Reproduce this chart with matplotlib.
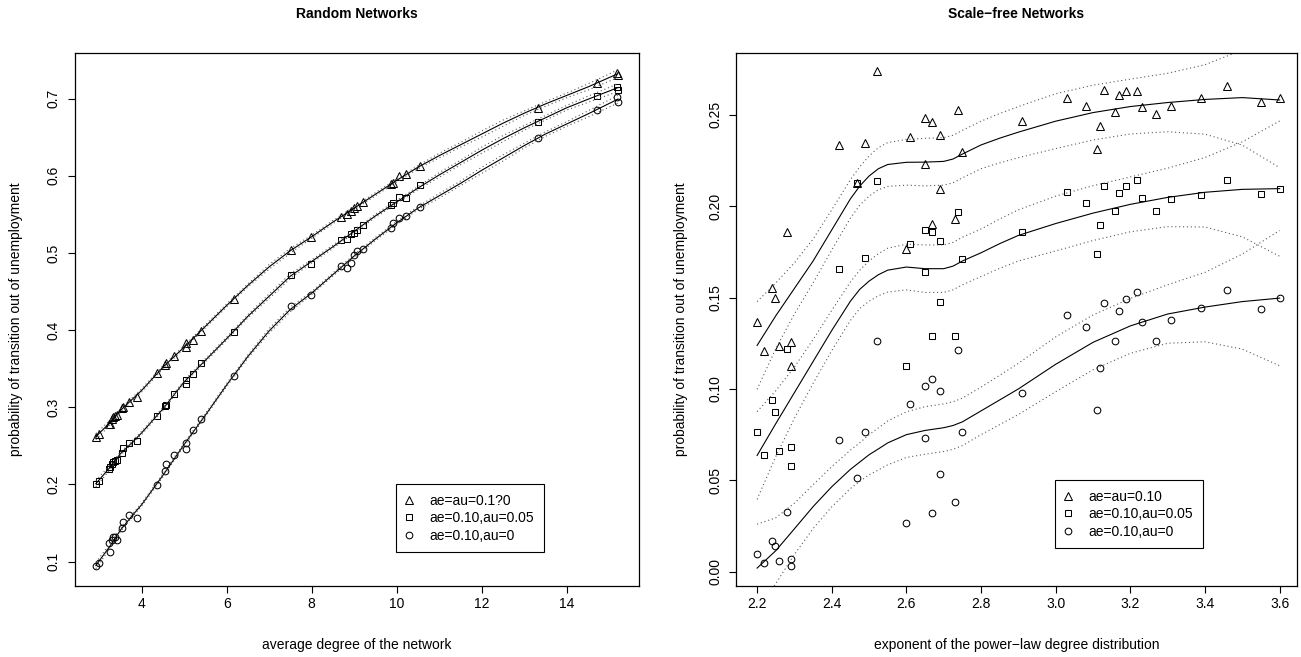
import matplotlib
matplotlib.use("Agg")
import matplotlib.pyplot as plt
from matplotlib.lines import Line2D
import numpy as np

plt.rcParams['font.family'] = ['Liberation Sans', 'DejaVu Sans']

# ---- Random networks (left) ----
avg_degree = [2.92, 3.00, 3.24, 3.25, 3.29, 3.33, 3.37, 3.41, 3.53, 3.55, 3.71, 3.88, 4.35, 4.55,
              4.57, 4.76, 5.03, 5.05, 5.21, 5.39, 6.16, 7.52, 7.98, 8.68, 8.82, 8.92, 9.00, 9.07,
              9.20, 9.87, 9.91, 10.06, 10.22, 10.55, 13.32, 14.71, 15.19, 15.20]
rand_tri = [0.262, 0.266, 0.278, 0.279, 0.2845, 0.2878, 0.289, 0.290, 0.2987, 0.3008, 0.3073, 0.3137,
            0.344, 0.355, 0.357, 0.3665, 0.3785, 0.383, 0.3872, 0.3992, 0.440, 0.504, 0.520, 0.547,
            0.551, 0.5547, 0.558, 0.561, 0.5655, 0.589, 0.591, 0.5996, 0.602, 0.6126, 0.688, 0.720,
            0.733, 0.730]
rand_sq = [0.2006, 0.2045, 0.2197, 0.223, 0.226, 0.2295, 0.2308, 0.232, 0.2404, 0.2469, 0.2541, 0.2567,
           0.289, 0.302, 0.3026, 0.3168, 0.330, 0.3354, 0.3431, 0.357, 0.397, 0.4714, 0.486, 0.517,
           0.518, 0.525, 0.526, 0.530, 0.536, 0.562, 0.5642, 0.5728, 0.5715, 0.5876, 0.670, 0.703,
           0.715, 0.711]
rand_ci = [0.0944, 0.098, 0.1238, 0.113, 0.128, 0.1316, 0.1324, 0.128, 0.1433, 0.1518, 0.1605, 0.1562,
           0.1993, 0.2175, 0.2262, 0.2382, 0.2464, 0.2541, 0.2706, 0.2845, 0.3405, 0.431, 0.4455, 0.483,
           0.480, 0.487, 0.497, 0.502, 0.5047, 0.532, 0.539, 0.545, 0.548, 0.560, 0.649, 0.685,
           0.702, 0.6955]

# smoothed fits
rand_grid = [2.92, 3.25, 3.5, 3.75, 4, 4.5, 5, 5.5, 6, 6.5, 7, 7.5, 8, 8.5, 9, 9.5, 10, 10.5,
             11, 11.5, 12, 12.5, 13, 13.5, 14, 14.5, 15.2]
rand_fit_tri = [0.262, 0.280, 0.296, 0.309, 0.322, 0.352, 0.378, 0.405, 0.432, 0.458, 0.482, 0.503, 0.521,
                0.540, 0.558, 0.576, 0.594, 0.611, 0.626, 0.640, 0.654, 0.668, 0.681, 0.693, 0.704, 0.715, 0.732]
rand_fit_sq = [0.201, 0.222, 0.240, 0.253, 0.267, 0.298, 0.333, 0.361, 0.389, 0.418, 0.444, 0.470, 0.489,
               0.508, 0.528, 0.548, 0.566, 0.584, 0.601, 0.617, 0.633, 0.648, 0.662, 0.675, 0.688, 0.699, 0.714]
rand_fit_ci = [0.095, 0.120, 0.141, 0.158, 0.174, 0.212, 0.252, 0.290, 0.329, 0.366, 0.399, 0.427, 0.448,
               0.472, 0.496, 0.518, 0.539, 0.558, 0.574, 0.590, 0.607, 0.623, 0.639, 0.654, 0.667, 0.680, 0.699]
rand_band = [0.004, 0.003, 0.002, 0.002, 0.002, 0.002, 0.002, 0.002, 0.002, 0.002, 0.003, 0.003, 0.002,
             0.002, 0.002, 0.002, 0.002, 0.002, 0.003, 0.003, 0.004, 0.004, 0.003, 0.003, 0.003, 0.004, 0.005]

# ---- Scale-free networks (right) ----
exponent = [2.200, 2.219, 2.239, 2.249, 2.259, 2.2805, 2.2896, 2.2896, 2.420, 2.469, 2.489, 2.520,
            2.600, 2.609, 2.650, 2.650, 2.669, 2.669, 2.690, 2.690, 2.730, 2.739, 2.750,
            2.909, 3.030, 3.080, 3.110, 3.119, 3.130, 3.159, 3.170, 3.189, 3.218, 3.231, 3.269,
            3.309, 3.390, 3.460, 3.550, 3.600]
sf_tri = [0.1365, 0.1206, 0.1554, 0.1495, 0.1234, 0.1861, 0.1256, 0.1128, 0.2336, 0.2129, 0.2343, 0.2738,
          0.1768, 0.238, 0.248, 0.2231, 0.2458, 0.190, 0.239, 0.2093, 0.1928, 0.2526, 0.2299,
          0.2464, 0.2592, 0.2546, 0.2312, 0.2440, 0.2637, 0.2513, 0.2610, 0.2632, 0.2628, 0.2544, 0.2504,
          0.2549, 0.2592, 0.2656, 0.2571, 0.2592]
sf_sq = [0.0764, 0.0636, 0.0938, 0.0874, 0.0662, 0.1219, 0.0684, 0.0581, 0.1658, 0.2126, 0.1714, 0.2138,
         0.1128, 0.1791, 0.1868, 0.1641, 0.1861, 0.1292, 0.1809, 0.1475, 0.1288, 0.1968, 0.1709,
         0.1861, 0.2075, 0.2020, 0.1736, 0.1895, 0.2111, 0.1974, 0.2071, 0.2111, 0.2144, 0.2042, 0.1974,
         0.2038, 0.2061, 0.2142, 0.2069, 0.2096]
sf_ci = [0.0095, 0.0049, 0.0170, 0.0141, 0.0060, 0.0325, 0.0068, 0.0031, 0.0720, 0.0515, 0.0766, 0.1261,
         0.0269, 0.0919, 0.1014, 0.0733, 0.1055, 0.0323, 0.0987, 0.0537, 0.0380, 0.1215, 0.0764,
         0.0978, 0.1402, 0.1340, 0.0883, 0.1115, 0.1471, 0.1261, 0.1426, 0.1493, 0.1532, 0.1365, 0.1261,
         0.1376, 0.1444, 0.1541, 0.1435, 0.1499]

sf_grid = [2.2, 2.25, 2.3, 2.35, 2.4, 2.45, 2.475, 2.5, 2.525, 2.55, 2.6, 2.65, 2.7, 2.725, 2.75,
           2.8, 2.85, 2.9, 3.0, 3.1, 3.2, 3.3, 3.4, 3.5, 3.6]
sf_fit_tri = [0.1238, 0.140, 0.155, 0.170, 0.187, 0.204, 0.211, 0.2165, 0.2205, 0.2228, 0.2240, 0.2241,
              0.2245, 0.2258, 0.2285, 0.2335, 0.2372, 0.2405, 0.2465, 0.2512, 0.2545, 0.2567, 0.2584,
              0.2594, 0.2581]
sf_fit_sq = [0.0636, 0.081, 0.098, 0.115, 0.132, 0.148, 0.1545, 0.1590, 0.1625, 0.1650, 0.1667, 0.1658,
             0.1658, 0.1672, 0.1700, 0.1745, 0.1795, 0.1840, 0.1905, 0.1962, 0.2010, 0.2048, 0.2076,
             0.2092, 0.2096]
sf_fit_ci = [0.002, 0.0115, 0.0235, 0.0356, 0.0465, 0.0560, 0.0600, 0.0640, 0.0672, 0.0705, 0.0750, 0.0773,
             0.0788, 0.0800, 0.0820, 0.0880, 0.0940, 0.1000, 0.1135, 0.1255, 0.1345, 0.1410, 0.1448,
             0.1478, 0.1497]
sf_band = [0.024, 0.018, 0.014, 0.012, 0.011, 0.0105, 0.0105, 0.011, 0.0115, 0.012, 0.0125, 0.013, 0.013,
           0.013, 0.013, 0.013, 0.0135, 0.014, 0.015, 0.015, 0.015, 0.016, 0.019, 0.026, 0.037]

W, H = 1301, 657
fig = plt.figure(figsize=(W / 100, H / 100), dpi=100)
ax1 = fig.add_axes([74.6 / W, 71 / H, 564.7 / W, 533 / H])
ax2 = fig.add_axes([736 / W, 71 / H, 561 / W, 533 / H])

marker_kw = dict(linestyle='none', markerfacecolor='none', markeredgecolor='black', markeredgewidth=0.75)
styles = [('^', 6.2), ('s', 4.2), ('o', 4.8)]


def draw_panel(ax, x, series, grid, fits, band):
    for (m, ms), y in zip(styles, series):
        ax.plot(x, y, marker=m, markersize=ms, **marker_kw)
    b = np.array(band)
    for f in fits:
        f = np.array(f)
        ax.plot(grid, f, color='black', lw=0.8)
        ax.plot(grid, f + b, color='0.35', lw=0.8, ls=(0, (1, 2.5)))
        ax.plot(grid, f - b, color='0.35', lw=0.8, ls=(0, (1, 2.5)))
    for s in ax.spines.values():
        s.set_linewidth(0.9)
    ax.tick_params(direction='out', length=5, width=0.8, labelsize=10, pad=3)
    ax.tick_params(axis='y', labelrotation=90, pad=5)


draw_panel(ax1, avg_degree, [rand_tri, rand_sq, rand_ci], rand_grid,
           [rand_fit_tri, rand_fit_sq, rand_fit_ci], rand_band)
ax1.set_xlim(2.42, 15.71)
ax1.set_ylim(0.0685, 0.759)
ax1.set_xticks([4, 6, 8, 10, 12, 14])
ax1.set_yticks([0.1, 0.2, 0.3, 0.4, 0.5, 0.6, 0.7])
ax1.set_yticklabels(['0.1', '0.2', '0.3', '0.4', '0.5', '0.6', '0.7'], rotation=90, va='center')

draw_panel(ax2, exponent, [sf_tri, sf_sq, sf_ci], sf_grid,
           [sf_fit_tri, sf_fit_sq, sf_fit_ci], sf_band)
ax2.set_xlim(2.1435, 3.6465)
ax2.set_ylim(-0.0078, 0.2838)
xt = [2.2, 2.4, 2.6, 2.8, 3.0, 3.2, 3.4, 3.6]
ax2.set_xticks(xt)
ax2.set_xticklabels([f'{v:.1f}' for v in xt])
yt = [0.0, 0.05, 0.10, 0.15, 0.20, 0.25]
ax2.set_yticks(yt)
ax2.set_yticklabels([f'{v:.2f}' for v in yt], rotation=90, va='center')

# titles and axis labels
fig.text(357 / W, 1 - 14 / H, 'Random Networks', ha='center', va='center', fontsize=10, fontweight='bold')
fig.text(1016.5 / W, 1 - 14 / H, 'Scale\u2212free Networks', ha='center', va='center', fontsize=10, fontweight='bold')
fig.text(357 / W, 1 - 645 / H, 'average degree of the network', ha='center', va='center', fontsize=10)
fig.text(1016.5 / W, 1 - 645 / H, 'exponent of the power\u2212law degree distribution', ha='center', va='center', fontsize=10)
fig.text(16 / W, 1 - 319.5 / H, 'probability of transition out of unemployment', rotation=90,
         ha='center', va='center', fontsize=10)
fig.text(681 / W, 1 - 319.5 / H, 'probability of transition out of unemployment', rotation=90,
         ha='center', va='center', fontsize=10)


# legends
def make_legend(ax, labels, anchor):
    handles = [Line2D([], [], marker=m, markersize=ms, **marker_kw) for m, ms in styles]
    leg = ax.legend(handles, labels, loc='upper left', bbox_to_anchor=anchor, fontsize=10,
                    frameon=True, fancybox=False, edgecolor='black', framealpha=1,
                    borderpad=0.7, handlelength=0.5, handletextpad=1.2, labelspacing=0.25,
                    borderaxespad=0)
    leg.get_frame().set_linewidth(0.8)


make_legend(ax1, ['ae=au=0.1?0', 'ae=0.10,au=0.05', 'ae=0.10,au=0'], (0.569, 0.1914))
make_legend(ax2, ['ae=au=0.10', 'ae=0.10,au=0.05', 'ae=0.10,au=0'], (0.5686, 0.1989))

fig.savefig('out.png', dpi=100)
